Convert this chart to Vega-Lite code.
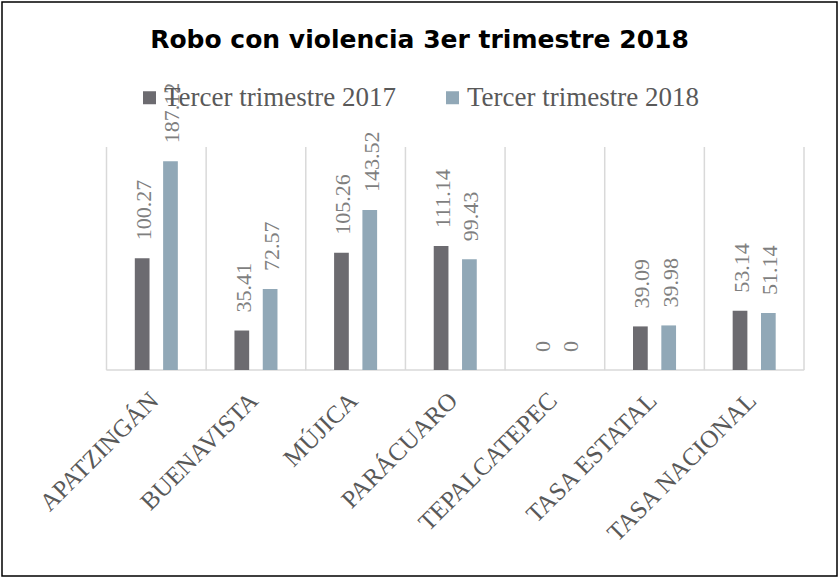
{
  "$schema": "https://vega.github.io/schema/vega-lite/v6.json",
  "width": 835,
  "height": 574,
  "autosize": {"type": "none"},
  "padding": {"left": 2, "top": 2, "right": 2, "bottom": 2},
  "background": "white",
  "title": {
    "text": "Robo con violencia 3er trimestre 2018",
    "anchor": "middle",
    "frame": "group",
    "offset": -47,
    "dy": 24,
    "baseline": "alphabetic",
    "font": "DejaVu Sans",
    "fontSize": 25,
    "fontWeight": "bold",
    "color": "#000000"
  },
  "data": {
    "values": [
      {"municipio": "APATZINGÁN", "serie": "Tercer trimestre 2017", "valor": 100.27},
      {"municipio": "APATZINGÁN", "serie": "Tercer trimestre 2018", "valor": 187.12},
      {"municipio": "BUENAVISTA", "serie": "Tercer trimestre 2017", "valor": 35.41},
      {"municipio": "BUENAVISTA", "serie": "Tercer trimestre 2018", "valor": 72.57},
      {"municipio": "MÚJICA", "serie": "Tercer trimestre 2017", "valor": 105.26},
      {"municipio": "MÚJICA", "serie": "Tercer trimestre 2018", "valor": 143.52},
      {"municipio": "PARÁCUARO", "serie": "Tercer trimestre 2017", "valor": 111.14},
      {"municipio": "PARÁCUARO", "serie": "Tercer trimestre 2018", "valor": 99.43},
      {"municipio": "TEPALCATEPEC", "serie": "Tercer trimestre 2017", "valor": 0},
      {"municipio": "TEPALCATEPEC", "serie": "Tercer trimestre 2018", "valor": 0},
      {"municipio": "TASA ESTATAL", "serie": "Tercer trimestre 2017", "valor": 39.09},
      {"municipio": "TASA ESTATAL", "serie": "Tercer trimestre 2018", "valor": 39.98},
      {"municipio": "TASA NACIONAL", "serie": "Tercer trimestre 2017", "valor": 53.14},
      {"municipio": "TASA NACIONAL", "serie": "Tercer trimestre 2018", "valor": 51.14}
    ]
  },
  "layer": [
    {
      "transform": [{"filter": "datum.serie === 'Tercer trimestre 2017'"}],
      "mark": {"type": "rule", "color": "#d9d9d9", "strokeWidth": 1.5},
      "encoding": {
        "x": {"field": "municipio", "type": "nominal", "bandPosition": 0, "title": null},
        "y": {"datum": 0, "type": "quantitative"},
        "y2": {"datum": 200}
      }
    },
    {
      "transform": [{"filter": "datum.serie === 'Tercer trimestre 2017' && datum.municipio === 'TASA NACIONAL'"}],
      "mark": {"type": "rule", "color": "#d9d9d9", "strokeWidth": 1.5},
      "encoding": {
        "x": {"field": "municipio", "type": "nominal", "bandPosition": 1, "title": null},
        "y": {"datum": 0, "type": "quantitative"},
        "y2": {"datum": 200}
      }
    },
    {
      "transform": [{"filter": "datum.serie === 'Tercer trimestre 2017'"}],
      "mark": {"type": "tick", "orient": "horizontal", "size": 100, "thickness": 1.5, "color": "#d9d9d9", "opacity": 1},
      "encoding": {
        "x": {"field": "municipio", "type": "nominal", "title": null},
        "y": {"datum": 0, "type": "quantitative"}
      }
    },
    {
      "mark": {"type": "bar"},
      "encoding": {
        "x": {
          "field": "municipio",
          "type": "nominal",
          "title": null,
          "scale": {
            "domain": ["APATZINGÁN", "BUENAVISTA", "MÚJICA", "PARÁCUARO", "TEPALCATEPEC", "TASA ESTATAL", "TASA NACIONAL"],
            "paddingInner": 0,
            "paddingOuter": 0.69,
            "align": 0.76
          }
        },
        "xOffset": {
          "field": "serie",
          "type": "nominal",
          "scale": {"paddingInner": 0.48, "paddingOuter": 1.155}
        },
        "y": {
          "field": "valor",
          "type": "quantitative",
          "scale": {"domain": [-184.75, 330.04], "nice": false, "zero": false}
        },
        "y2": {"datum": 0},
        "color": {
          "field": "serie",
          "type": "nominal",
          "scale": {"range": ["#6c6b70", "#91a8b7"]},
          "legend": {
            "orient": "none",
            "legendX": 134,
            "legendY": 82,
            "direction": "horizontal",
            "title": null,
            "symbolType": "square",
            "symbolSize": 169,
            "symbolStrokeWidth": 0,
            "labelFont": "Liberation Serif",
            "labelFontSize": 27,
            "labelColor": "#595959",
            "labelOffset": 1,
            "columnPadding": 42,
            "labelLimit": 400
          }
        }
      }
    },
    {
      "mark": {
        "type": "text",
        "angle": 270,
        "align": "left",
        "baseline": "middle",
        "dx": 18,
        "dy": 2,
        "font": "Liberation Serif",
        "fontSize": 22,
        "color": "#7f7f7f"
      },
      "encoding": {
        "x": {"field": "municipio", "type": "nominal", "title": null},
        "xOffset": {"field": "serie", "type": "nominal"},
        "y": {"field": "valor", "type": "quantitative"},
        "text": {"field": "valor", "type": "quantitative"}
      }
    }
  ],
  "config": {
    "view": {"stroke": "#000000", "strokeWidth": 1.5},
    "axisY": {"disable": true},
    "axisX": {
      "offset": -206,
      "domain": false,
      "ticks": false,
      "tickSize": 0,
      "grid": false,
      "labelAngle": -45,
      "labelAlign": "right",
      "labelBaseline": "middle",
      "labelFont": "Liberation Serif",
      "labelFontSize": 25,
      "labelColor": "#595959",
      "labelPadding": 26,
      "labelOffset": -2,
      "labelLimit": 400,
      "labelOverlap": false
    }
  }
}
